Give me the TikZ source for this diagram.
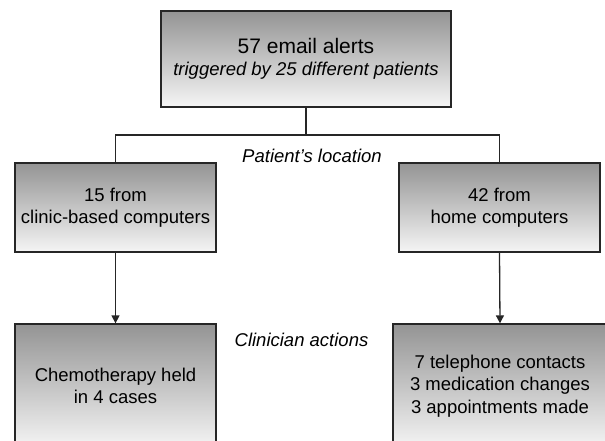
\documentclass[tikz,border=0pt]{standalone}
\usepackage{fontspec}
\setmainfont{Liberation Sans}
\usetikzlibrary{arrows.meta}

\tikzset{
  box/.style={draw=black!85, line width=1.3pt, top color=black!42, bottom color=black!4,
    minimum width=201pt, minimum height=89pt, align=center, inner sep=0pt,
    font=\fontsize{18.5}{22.5}\selectfont},
  flow/.style={draw=black!85, line width=1.3pt},
  stagetext/.style={font=\fontsize{18.5}{22.5}\selectfont\itshape}
}

\begin{document}
\begin{tikzpicture}[x=1pt, y=-1pt]
  \useasboundingbox (0,0) rectangle (605,440);
  \clip (0,0) rectangle (605,440);
  % alerts
  \node[box, minimum width=290pt, minimum height=96pt] (alerts) at (306,59)
    {{\fontsize{21}{25}\selectfont 57 email alerts}\\ \itshape triggered by 25 different patients};
  % location
  \node[box] (clinic) at (115.5,207.5) {15 from\\clinic-based computers};
  \node[box] (home) at (499.5,207.5) {42 from\\home computers};
  % actions
  \node[box, minimum height=124pt] (chemo) at (115.5,386) {Chemotherapy held\\in 4 cases};
  \node[box, minimum width=214pt, minimum height=124pt] (contacts) at (500,386)
    {7 telephone contacts\\3 medication changes\\3 appointments made};
  \node[stagetext] (location) at (312,156) {Patient's location};
  \node[stagetext] (actions) at (301.5,340) {Clinician actions};

  \coordinate (split) at (alerts.south |- 0,135);
  \draw[flow] (alerts.south) -- (split);
  \draw[flow] (clinic.north) |- (split) -| (home.north);
  \draw[flow, -{Triangle[length=8pt, width=8pt]}] (clinic.south) -- (chemo.north);
  \draw[flow, -{Triangle[length=8pt, width=8pt]}] (home.south) -- (contacts.north);
\end{tikzpicture}
\end{document}
